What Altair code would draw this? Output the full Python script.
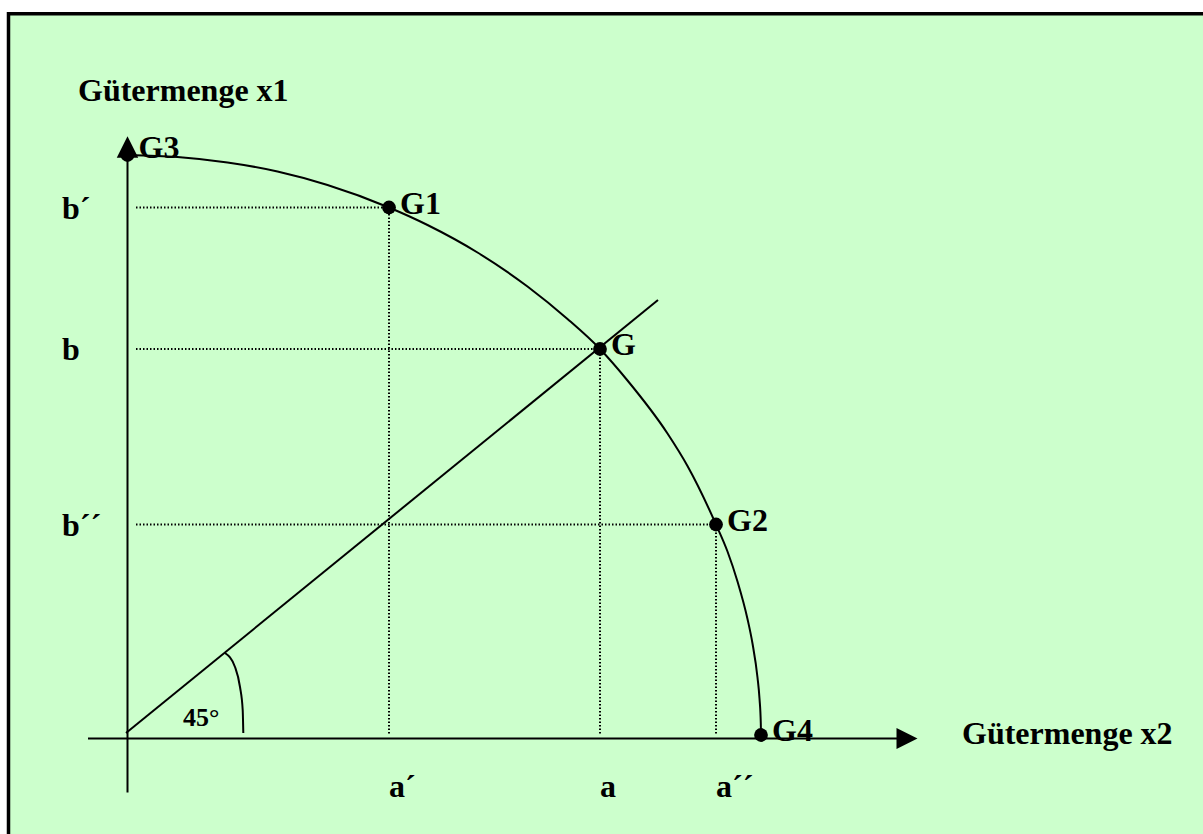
import altair as alt
import pandas as pd

# Points on the production possibility frontier (x2 = Gütermenge x2, x1 = Gütermenge x1)
point_names = ["G3", "G1", "G", "G2", "G4"]
point_x2 = [0.0, 261.5, 472.5, 588.5, 633.5]
point_x1 = [583.5, 531.0, 389.5, 214.0, 3.5]

# Frontier curve traced from G3 down to G4
curve_x2 = [0.0, 50.0, 100.0, 150.0, 200.0, 261.5, 300.0, 350.0, 400.0, 440.0,
            472.5, 500.0, 540.0, 560.0, 588.5, 600.0, 610.0, 620.0, 625.0, 630.0,
            632.0, 633.3, 633.5]
curve_x1 = [583.5, 581.5, 576.0, 567.0, 553.5, 531.0, 513.5, 486.0, 452.0, 419.5,
            389.5, 358.0, 305.0, 272.5, 214.0, 187.0, 157.0, 119.5, 95.0, 61.0,
            40.0, 15.0, 3.5]

# 45° ray through G
ray_x2 = [-1.5, 530.5]
ray_x1 = [5.5, 438.5]

# small arc marking the 45° angle
arc_x2 = [97.5, 107.5, 112.5, 115.2, 115.8]
arc_x1 = [85.5, 71.5, 51.5, 28.5, 5.5]

# axis extents and arrow heads
axis_x2_span = [-39.5, 772.0]
axis_x1_span = [-54.0, 585.0]
arrow_x2_at = 779.5
arrow_x1_at = 591.5

# guide labels for G1, G, G2
level_labels_x1 = ["b´", "b", "b´´"]
level_labels_x2 = ["a´", "a", "a´´"]

FONT = "Liberation Serif"
BG = "#CCFFCC"

xs = alt.Scale(domain=[-127.5, 1075.5], nice=False, zero=False)
ys = alt.Scale(domain=[-95.5, 738.5], nice=False, zero=False)


def X(field):
    return alt.X(field, type="quantitative", scale=xs, axis=None)


def Y(field):
    return alt.Y(field, type="quantitative", scale=ys, axis=None)


points = pd.DataFrame({"name": point_names, "x2": point_x2, "x1": point_x1})
curve = pd.DataFrame({"x2": curve_x2, "x1": curve_x1})
ray = pd.DataFrame({"x2": ray_x2, "x1": ray_x1})
arc = pd.DataFrame({"x2": arc_x2, "x1": arc_x1})
guides = pd.DataFrame({
    "x2": point_x2[1:4],
    "x1": point_x1[1:4],
    "lab_x1": level_labels_x1,
    "lab_x2": level_labels_x2,
})
one = pd.DataFrame({"k": [0]})

frame = alt.Chart(one).mark_rect(fill=BG, stroke="black", strokeWidth=3.5).encode(
    x=alt.value(8.5), x2=alt.value(1400), y=alt.value(13.7), y2=alt.value(1000)
)

dotted = dict(color="black", strokeWidth=2, strokeDash=[1.5, 2])
h_guides = alt.Chart(guides).transform_calculate(start="8.5").mark_rule(**dotted).encode(
    x=X("start"), x2=alt.X2("x2:Q"), y=Y("x1")
)
v_guides = alt.Chart(guides).transform_calculate(start="5").mark_rule(**dotted).encode(
    x=X("x2"), y=Y("start"), y2=alt.Y2("x1:Q")
)

ray_line = alt.Chart(ray).mark_line(color="black", strokeWidth=2).encode(x=X("x2"), y=Y("x1"))
arc_line = alt.Chart(arc).mark_line(color="black", strokeWidth=2, interpolate="monotone").encode(
    x=X("x2"), y=Y("x1")
)
curve_line = alt.Chart(curve).mark_line(color="black", strokeWidth=2, interpolate="monotone").encode(
    x=X("x2"), y=Y("x1")
)

x_axis = alt.Chart(pd.DataFrame({"x2": axis_x2_span, "x1": [0.0, 0.0]})).mark_line(
    color="black", strokeWidth=2
).encode(x=X("x2"), y=Y("x1"))
y_axis = alt.Chart(pd.DataFrame({"x2": [0.0, 0.0], "x1": axis_x1_span})).mark_line(
    color="black", strokeWidth=2
).encode(x=X("x2"), y=Y("x1"))

arrow_up = alt.Chart(pd.DataFrame({"x2": [0.0], "x1": [arrow_x1_at]})).mark_point(
    shape="M0,-1L1,1L-1,1Z", filled=True, color="black", opacity=1, size=460
).encode(x=X("x2"), y=Y("x1"))
arrow_right = alt.Chart(pd.DataFrame({"x2": [arrow_x2_at], "x1": [0.0]})).mark_point(
    shape="M1,0L-1,1L-1,-1Z", filled=True, color="black", opacity=1, size=440
).encode(x=X("x2"), y=Y("x1"))

dots = alt.Chart(points).mark_circle(color="black", opacity=1, size=190).encode(x=X("x2"), y=Y("x1"))

txt = dict(font=FONT, fontWeight="bold", fontSize=32, color="black", align="left", baseline="alphabetic")
point_labels = alt.Chart(points).transform_filter("datum.name != 'G3'").mark_text(dx=11, dy=6, **txt).encode(
    x=X("x2"), y=Y("x1"), text="name:N"
)
g3_label = alt.Chart(points).transform_filter("datum.name == 'G3'").mark_text(dx=11, dy=3, **txt).encode(
    x=X("x2"), y=Y("x1"), text="name:N"
)
b_labels = alt.Chart(guides).mark_text(dy=11, **txt).encode(
    x=alt.value(62), y=Y("x1"), text="lab_x1:N"
)
a_labels = alt.Chart(guides).mark_text(dx=0, **txt).encode(
    x=X("x2"), y=alt.value(797), text="lab_x2:N"
)

title_x1 = alt.Chart(one).mark_text(text="Gütermenge x1", **txt).encode(x=alt.value(78), y=alt.value(101))
title_x2 = alt.Chart(one).mark_text(text="Gütermenge x2", **txt).encode(x=alt.value(962), y=alt.value(744))
angle_txt = dict(txt, fontSize=26)
angle_label = alt.Chart(one).mark_text(text="45°", **angle_txt).encode(x=alt.value(183), y=alt.value(726))

chart = alt.layer(
    frame, h_guides, v_guides, ray_line, arc_line, curve_line,
    x_axis, y_axis, dots, arrow_up, arrow_right,
    point_labels, g3_label, b_labels, a_labels, title_x1, title_x2, angle_label,
).properties(
    width=1203, height=834, padding=0, autosize="none", background="white"
).configure_view(stroke=None)

chart.save("out.html", embed_options={"renderer": "svg", "actions": False})
